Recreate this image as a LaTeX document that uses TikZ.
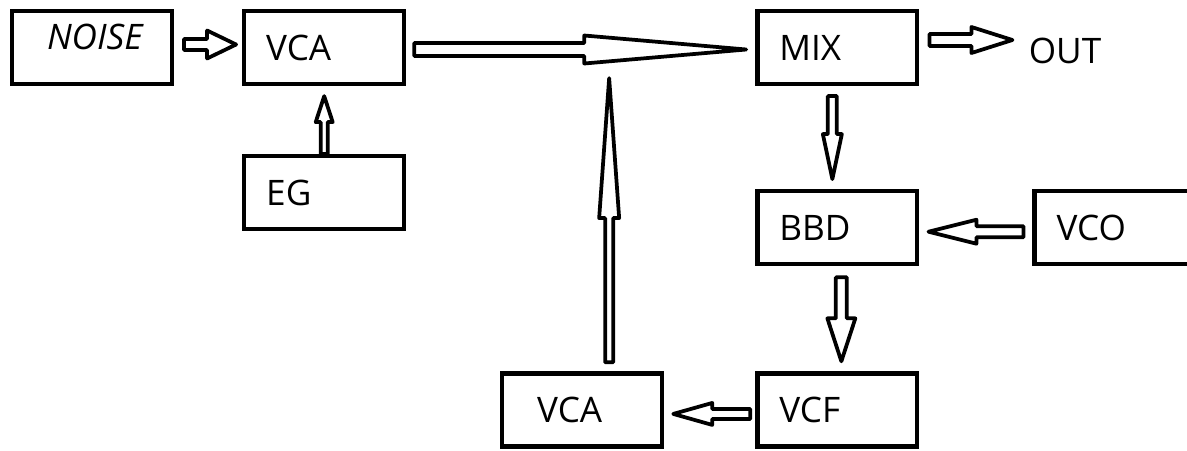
\documentclass[tikz,border=0pt]{standalone}
\usepackage{fontspec}
\setmainfont{Open Sans}
\usetikzlibrary{positioning,calc}
\newcommand{\blockarrow}[5]{%
  \coordinate (ba-s) at #1;
  \coordinate (ba-e) at #2;
  \coordinate (ba-b) at ($(ba-e)!#5!(ba-s)$);
  \draw[barrow] ($(ba-s)!#3!90:(ba-e)$) -- ($(ba-b)!#3!-90:(ba-s)$) -- ($(ba-b)!#4!-90:(ba-s)$)
    -- (ba-e) -- ($(ba-b)!#4!90:(ba-s)$) -- ($(ba-b)!#3!90:(ba-s)$) -- ($(ba-s)!#3!-90:(ba-e)$) -- cycle;
}
\begin{document}
\begin{tikzpicture}[
  x=0.02cm, y=-0.02cm,
  font=\fontsize{20}{24}\selectfont,
  box/.style={draw, line width=0.085cm, minimum width=3.2cm, minimum height=1.46cm,
    inner xsep=0.44cm, text width=2.32cm, align=left},
  lbl/.style={inner sep=0pt},
  barrow/.style={line width=0.075cm, line join=round, fill=white}
]
\clip (0,0) rectangle (1187,450);
\node[box, text depth=0.42cm] (noise) at (92,47.5) {\hspace*{0.26cm}\textit{NOISE}};
\node[box, right=1.36cm of noise] (vca) {VCA};
\node[box, below=1.36cm of vca] (eg) {EG};
\node[box, right=6.98cm of vca] (mix) {MIX};
\node[lbl, right=2.18cm of mix, yshift=-0.06cm] (out) {OUT};
\node[box, below=2.06cm of mix] (bbd) {BBD};
\node[box, right=2.26cm of bbd] (vco) {VCO};
\node[box, below=2.1cm of bbd] (vcf) {VCF};
\node[box, left=1.82cm of vcf] (vcab) {\hspace*{0.26cm}VCA};
\coordinate (join) at ($(vcab.north |- vca.south)+(27,-8)$);
\blockarrow{($(noise.east)+(10,-3)$)}{($(vca.west)+(-6,-3)$)}{0.11cm}{0.28cm}{0.58cm}
\blockarrow{(eg.north)}{($(eg.north |- vca.south)+(0,10)$)}{0.07cm}{0.17cm}{0.52cm}
\blockarrow{($(vca.east)+(8,2)$)}{($(mix.west)+(-9,2)$)}{0.13cm}{0.28cm}{3.24cm}
\blockarrow{($(vcab.north)+(27,-9)$)}{(join)}{0.08cm}{0.2cm}{2.8cm}
\blockarrow{($(mix.east)+(10,-7.5)$)}{($(out.west)+(-16,-10.5)$)}{0.12cm}{0.26cm}{0.82cm}
\blockarrow{($(mix.south)+(-5,10)$)}{($(bbd.north)+(-5,-10)$)}{0.09cm}{0.19cm}{0.9cm}
\blockarrow{($(vco.west)+(-9,4)$)}{($(bbd.east)+(9,4)$)}{0.11cm}{0.24cm}{0.96cm}
\blockarrow{($(bbd.south)+(4,11)$)}{($(vcf.north)+(4,-10)$)}{0.11cm}{0.28cm}{0.86cm}
\blockarrow{($(vcf.west)+(-5,4)$)}{($(vcab.east)+(9,4)$)}{0.1cm}{0.22cm}{0.78cm}
\end{tikzpicture}
\end{document}
